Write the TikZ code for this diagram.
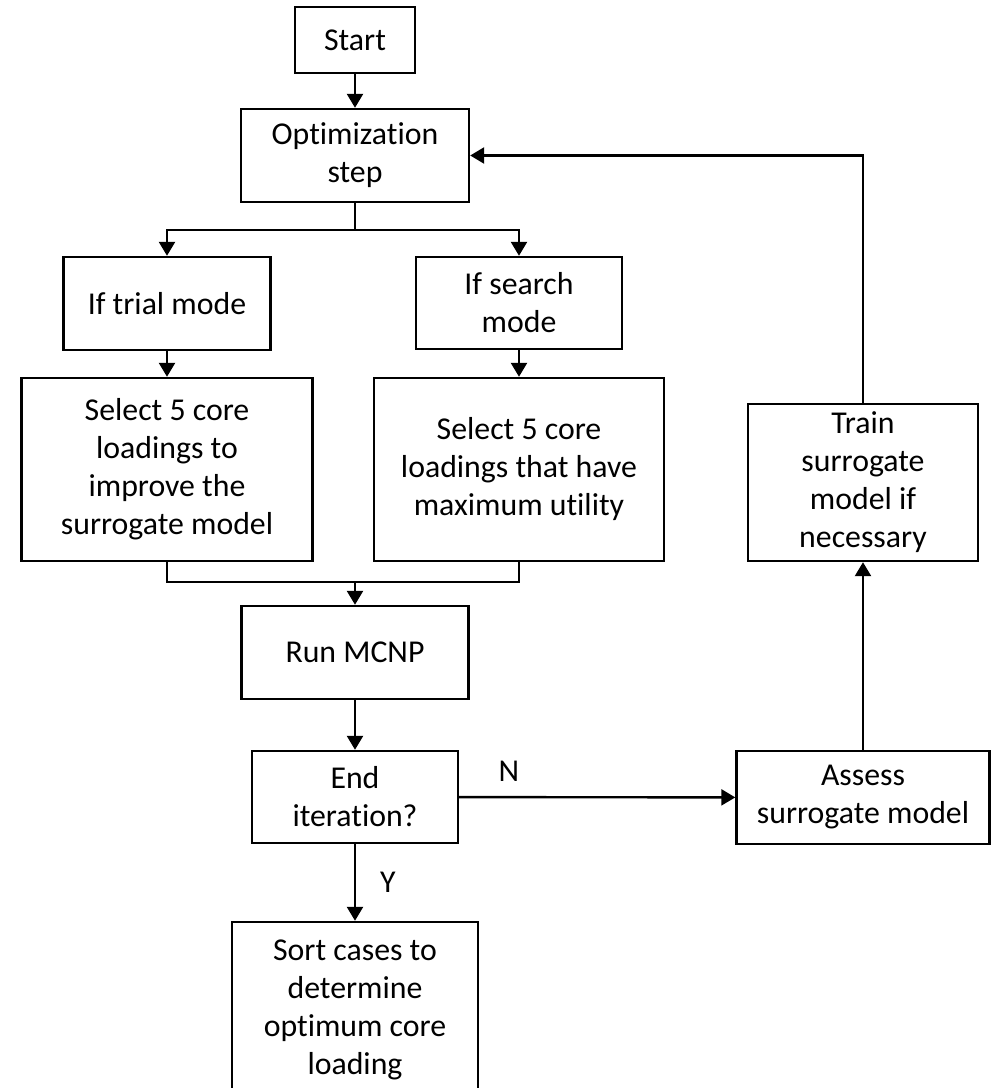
\documentclass[tikz,border=0pt]{standalone}
\usepackage{fontspec}
\setmainfont[Ligatures=NoCommon]{Carlito}
\usetikzlibrary{arrows.meta}
\begin{document}
\begin{tikzpicture}[x=1pt,y=-1pt,
  box/.style={draw, line width=2.4pt, align=center, inner sep=0pt, font=\fontsize{31.8}{38}\selectfont},
  conn/.style={line width=2.4pt},
  arr/.style={conn, -{Triangle[length=14pt,width=16pt]}},
  lbl/.style={font=\fontsize{31.8}{38}\selectfont, inner sep=0pt}]
\useasboundingbox (0,0) rectangle (992,1088);
\clip (0,0) rectangle (992,1088);
\node[box, minimum width=120, minimum height=66] (start) at (355,40) {Start};
\node[box, minimum width=228, minimum height=93] (opt) at (355,155.5) {Optimization\\step};
\node[box, minimum width=207, minimum height=93] (trial) at (167,303.5) {If trial mode};
\node[box, minimum width=206, minimum height=92] (search) at (519,303) {If search\\mode};
\node[box, minimum width=291, minimum height=183] (selL) at (167,469.5) {Select 5 core\\loadings to\\improve the\\surrogate model};
\node[box, minimum width=290, minimum height=183] (selR) at (519,469.5) {Select 5 core\\loadings that have\\maximum utility};
\node[box, minimum width=227, minimum height=93] (run) at (355,652.5) {Run MCNP};
\node[box, minimum width=206, minimum height=92] (endit) at (355,797) {End\\iteration?};
\node[box, minimum width=253, minimum height=93] (assess) at (863,797.5) {Assess\\surrogate model};
\node[box, minimum width=230, minimum height=157] (train) at (863,482.5) {Train\\surrogate\\model if\\necessary};
\node[box, minimum width=246, minimum height=176] (sort) at (355,1010) {Sort cases to\\determine\\optimum core\\loading};
\coordinate (s) at (355,230);
\coordinate (m) at (355,582);
\draw[arr] (start) -- (opt);
\draw[arr] (opt.south) -- (s) -| (trial.north);
\draw[arr] (s) -| (search.north);
\draw[arr] (trial) -- (selL);
\draw[arr] (search) -- (selR);
\draw[conn] (selL.south) |- (m) -| (selR.south);
\draw[arr] (m) -- (run.north);
\draw[arr] (run) -- (endit);
\draw[arr] (endit) -- (sort) node[lbl, pos=0.5, right=24pt] (ylbl) {Y};
\draw[arr] (endit) -- (assess) node[lbl, pos=0.18, above=14pt] (nlbl) {N};
\draw[arr] (assess) -- (train);
\draw[arr] (train.north) |- (opt.east);
\end{tikzpicture}
\end{document}
